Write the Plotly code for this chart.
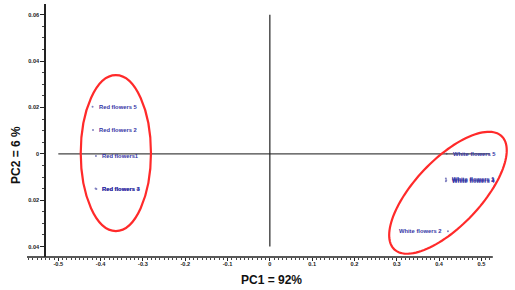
import numpy as np
import plotly.graph_objects as go

# ---- data ----
red_labels = ["Red flowers 5", "Red flowers 2", "Red flowers1", "Red flowers 3", "Red flowers 4"]
red_pc1 = [-0.419, -0.418, -0.411, -0.412, -0.410]
red_pc2 = [0.0203, 0.0103, -0.0010, -0.0150, -0.0152]

white_labels = ["White flowers 5", "White flowers 1", "White flowers 3", "White flowers 4", "White flowers 2"]
white_pc1 = [0.418, 0.416, 0.417, 0.416, 0.421]
white_pc2 = [0.0, -0.0107, -0.0114, -0.0118, -0.0334]
white_side = ["right", "right", "right", "right", "left"]

x_ticks = [-0.5, -0.4, -0.3, -0.2, -0.1, 0, 0.1, 0.2, 0.3, 0.4, 0.5]
x_ticktext = ["-0.5", "-0.4", "-0.3", "-0.2", "-0.1", "0", "0.1", "0.2", "0.3", "0.4", "0.5"]
y_ticks = [0.06, 0.04, 0.02, 0, -0.02, -0.04]
y_ticktext = ["0.06", "0.04", "0.02", "0", "0.02", "0.04"]

# ---- layout constants ----
W, H = 515, 290
XR = [-0.574, 0.570]
YR = [-0.0445, 0.0646]
ML, MR, MT, MB = 27, 4, 4, 33
AXIS_END = 0.527
LABEL_COLOR = "#3535a5"
FONT = "Liberation Sans, Arial, sans-serif"

fig = go.Figure()

all_x = red_pc1 + white_pc1
all_y = red_pc2 + white_pc2
fig.add_trace(go.Scatter(x=all_x, y=all_y, mode="markers",
                         marker=dict(size=2, color="#8080c0"),
                         showlegend=False, hoverinfo="skip"))

annotations = []
for lab, x, y in zip(red_labels, red_pc1, red_pc2):
    annotations.append(dict(x=x, y=y, text=lab, showarrow=False, xanchor="left",
                            yanchor="middle", xshift=4,
                            font=dict(size=5.8, color=LABEL_COLOR, family=FONT, weight="bold")))
for lab, x, y, side in zip(white_labels, white_pc1, white_pc2, white_side):
    annotations.append(dict(x=x, y=y, text=lab, showarrow=False,
                            xanchor="left" if side == "right" else "right",
                            yanchor="middle", xshift=4 if side == "right" else -4,
                            font=dict(size=5.8, color=LABEL_COLOR, family=FONT, weight="bold")))

# axis titles
annotations.append(dict(xref="paper", yref="paper", x=(271 - ML) / (W - ML - MR),
                        y=-(280 - (H - MB)) / (H - MT - MB), text="PC1 = 92%",
                        showarrow=False, xanchor="center", yanchor="middle",
                        font=dict(size=12, color="#111", family=FONT, weight="bold")))
annotations.append(dict(xref="paper", yref="paper", x=-(ML - 16) / (W - ML - MR),
                        y=((H - MB) - 155) / (H - MT - MB), text="PC2 = 6 %",
                        showarrow=False, xanchor="center", yanchor="middle", textangle=-90,
                        font=dict(size=12, color="#111", family=FONT, weight="bold")))

# ---- shapes ----
shapes = []
# x axis line
shapes.append(dict(type="line", xref="x", yref="paper", x0=XR[0], x1=AXIS_END, y0=0, y1=0,
                   line=dict(color="#222", width=1.5)))
# cross lines
shapes.append(dict(type="line", xref="x", yref="y", x0=-0.5, x1=0.52, y0=0, y1=0,
                   line=dict(color="#444", width=1.2)))
shapes.append(dict(type="line", xref="x", yref="y", x0=0, x1=0, y0=-0.04, y1=0.06,
                   line=dict(color="#222", width=1.2)))
# left ellipse (red group)
shapes.append(dict(type="circle", xref="x", yref="y", x0=-0.364 - 0.083, x1=-0.364 + 0.083,
                   y0=0.0003 - 0.0336, y1=0.0003 + 0.0336,
                   line=dict(color="#ff2a2a", width=2.2)))
# right rotated ellipse (white group): center in data units, semi-axes in px
pxx = (W - ML - MR) / (XR[1] - XR[0])
pxy = (H - MT - MB) / (YR[1] - YR[0])
cx, cy, a, b, th = 0.421, -0.0168, 78, 33, np.deg2rad(46.5)
t = np.linspace(0, 2 * np.pi, 121)
ex = cx + (a * np.cos(t) * np.cos(th) - b * np.sin(t) * np.sin(th)) / pxx
ey = cy + (a * np.cos(t) * np.sin(th) + b * np.sin(t) * np.cos(th)) / pxy
path = "M " + " L ".join(f"{xx:.5f},{yy:.6f}" for xx, yy in zip(ex, ey)) + " Z"
shapes.append(dict(type="path", xref="x", yref="y", path=path,
                   line=dict(color="#ff2a2a", width=2.2)))

fig.update_layout(
    width=W, height=H,
    margin=dict(l=ML, r=MR, t=MT, b=MB),
    paper_bgcolor="white", plot_bgcolor="white",
    showlegend=False,
    annotations=annotations,
    shapes=shapes,
    xaxis=dict(range=XR, showgrid=False, zeroline=False, showline=False,
               tickmode="array", tickvals=x_ticks, ticktext=x_ticktext,
               ticks="outside", ticklen=3, tickwidth=1, tickcolor="#222",
               ticklabelstandoff=-2,
               tickfont=dict(size=5.6, color="#222", family=FONT, weight="bold"),
               minor=dict(tickmode="array", tickvals=list(np.round(np.arange(-0.57, 0.5201, 0.01), 3)),
                          ticks="outside", ticklen=2, tickcolor="#444", tickwidth=1)),
    yaxis=dict(range=YR, showgrid=False, zeroline=False, showline=True, linecolor="#222", linewidth=1.5,
               anchor="free", position=(45 - ML) / (W - ML - MR),
               tickmode="array", tickvals=y_ticks, ticktext=y_ticktext,
               ticks="outside", ticklen=4, tickwidth=1, tickcolor="#222",
               tickfont=dict(size=5.6, color="#222", family=FONT, weight="bold"),
               minor=dict(tickmode="array", tickvals=list(np.round(np.arange(-0.045, 0.0646, 0.005), 4)),
                          ticks="outside", ticklen=2, tickcolor="#444", tickwidth=1)),
)

fig.write_html("out.html", config={"displayModeBar": False},
               post_script="document.body.style.margin='0';document.body.style.overflow='hidden';")
